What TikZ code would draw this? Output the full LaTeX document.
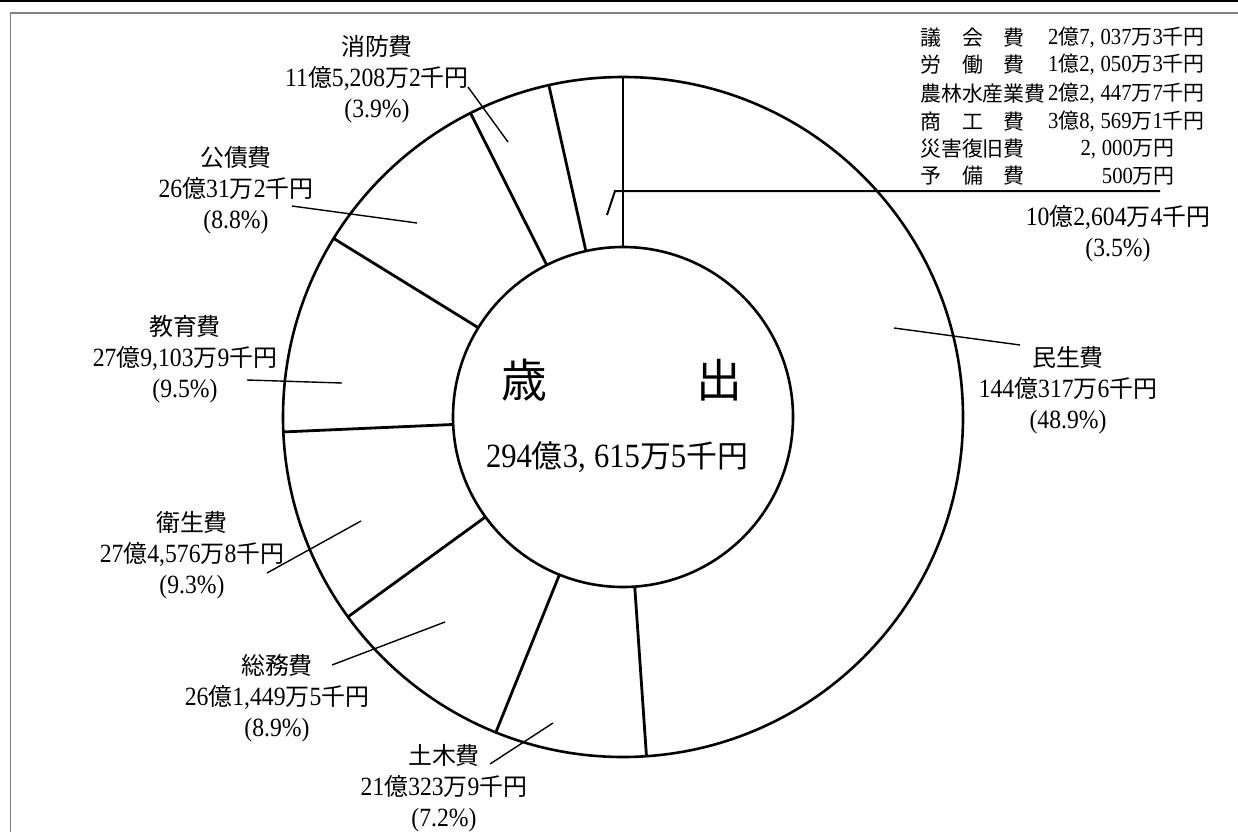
\documentclass[tikz,border=0pt]{standalone}
\usepackage{fontspec}
\setmainfont[Scale=1.1,FakeStretch=0.9]{Liberation Serif}
\newfontfamily\cjk{Noto Sans CJK JP}
\newcommand\J[1]{{\cjk #1}}
\newcommand\wc{,\hspace{0.25em}}
\usetikzlibrary{calc}
\tikzset{
  ring/.style={line width=2.6bp},
  radial/.style={line width=2.8bp},
  leader/.style={line width=1.4bp},
  lab/.style={align=center, inner sep=0pt, font=\fontsize{24}{31}\selectfont},
  tab/.style={inner sep=0pt, font=\fontsize{21}{25}\selectfont},
  framegray/.style={draw=black!50, line width=1.2bp}
}
\begin{document}
\begin{tikzpicture}[x=1bp,y=-1bp]
\useasboundingbox (0,0) rectangle (1238,832);
\fill[white] (0,0) rectangle (1238,832);
% frame
\draw[line width=1.6bp] (0,0.8) -- (1238,0.8);
\draw[framegray] (10.5,832) -- (10.5,13) -- (1238,13);
% donut
\coordinate (c) at (623,417);
\draw[ring] (c) circle[radius=340bp];
\draw[ring] (c) circle[radius=170bp];
\foreach \a in {270,86.04,111.96,144.0,177.48,211.68,243.36,257.4}
  \draw[radial] ($(c)+(\a:170)$) -- ($(c)+(\a:340)$);
% centre text
\node[font=\fontsize{46}{50}\selectfont, inner sep=0pt] (title) at (622,380) {\J{歳}\hspace{2.95em}\J{出}};
\node[font=\fontsize{31}{36}\selectfont, inner sep=0pt] (total) at (617,457) {294\J{億}3\wc 615\J{万}5\J{千円}};
% labels
\node[lab] (shobo) at (377,79) {\J{消防費}\\11\J{億}5,208\J{万}2\J{千円}\\(3.9\%)};
\node[lab] (kosai) at (236,190) {\J{公債費}\\26\J{億}31\J{万}2\J{千円}\\(8.8\%)};
\node[lab] (kyoiku) at (185,359) {\J{教育費}\\27\J{億}9,103\J{万}9\J{千円}\\(9.5\%)};
\node[lab] (eisei) at (192,555) {\J{衛生費}\\27\J{億}4,576\J{万}8\J{千円}\\(9.3\%)};
\node[lab] (somu) at (277,698) {\J{総務費}\\26\J{億}1,449\J{万}5\J{千円}\\(8.9\%)};
\node[lab] (doboku) at (444,788) {\J{土木費}\\21\J{億}323\J{万}9\J{千円}\\(7.2\%)};
\node[lab] (minsei) at (1068,390) {\J{民生費}\\144\J{億}317\J{万}6\J{千円}\\(48.9\%)};
\node[lab] (sonota) at (1118,234) {10\J{億}2,604\J{万}4\J{千円}\\(3.5\%)};
% leaders
\coordinate (shobo-a) at (468,87);   \coordinate (shobo-b) at (508,142);
\coordinate (kosai-a) at (292,206);  \coordinate (kosai-b) at (417,223);
\coordinate (kyoiku-a) at (247,380); \coordinate (kyoiku-b) at (342,383);
\coordinate (eisei-a) at (267,573);  \coordinate (eisei-b) at (361,521);
\coordinate (somu-a) at (332,665);   \coordinate (somu-b) at (445,622);
\coordinate (doboku-a) at (490,764); \coordinate (doboku-b) at (553,723);
\coordinate (minsei-a) at (1020,345);\coordinate (minsei-b) at (894,328);
\coordinate (sonota-a) at (1160,191);\coordinate (sonota-k) at (615,191);\coordinate (sonota-b) at (607,215);
\draw[leader] (shobo-a) -- (shobo-b);
\draw[leader] (kosai-a) -- (kosai-b);
\draw[leader] (kyoiku-a) -- (kyoiku-b);
\draw[leader] (eisei-a) -- (eisei-b);
\draw[leader] (somu-a) -- (somu-b);
\draw[leader] (doboku-a) -- (doboku-b);
\draw[leader] (minsei-a) -- (minsei-b);
\draw[line width=2bp] (sonota-a) -- (sonota-k) -- (sonota-b);
% small-items table
\node[tab,anchor=west] (t1) at (920,38) {\J{議　会　費}};
\node[tab,anchor=east] (v1) at (1205,38) {2\J{億}7\wc 037\J{万}3\J{千円}};
\node[tab,anchor=west] (t2) at (920,65) {\J{労　働　費}};
\node[tab,anchor=east] (v2) at (1205,65) {1\J{億}2\wc 050\J{万}3\J{千円}};
\node[tab,anchor=west] (t3) at (920,94) {\J{農林水産業費}};
\node[tab,anchor=east] (v3) at (1205,94) {2\J{億}2\wc 447\J{万}7\J{千円}};
\node[tab,anchor=west] (t4) at (920,122) {\J{商　工　費}};
\node[tab,anchor=east] (v4) at (1205,122) {3\J{億}8\wc 569\J{万}1\J{千円}};
\node[tab,anchor=west] (t5) at (920,149) {\J{災害復旧費}};
\node[tab,anchor=east] (v5) at (1175,149) {2\wc 000\J{万円}};
\node[tab,anchor=west] (t6) at (920,176) {\J{予　備　費}};
\node[tab,anchor=east] (v6) at (1175,176) {500\J{万円}};
\end{tikzpicture}
\end{document}
